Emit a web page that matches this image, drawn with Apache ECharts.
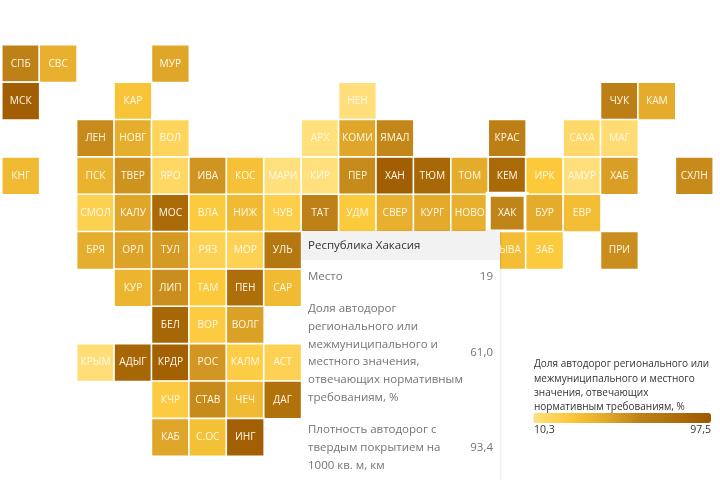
<!DOCTYPE html>
<html><head><meta charset="utf-8">
<style>html,body{margin:0;padding:0;background:#fff;overflow:hidden}#c{width:720px;height:480px;overflow:hidden;position:relative}</style>
<script src="https://cdn.jsdelivr.net/npm/echarts@6/dist/echarts.min.js"></script>
</head><body><div id="c"></div>
<script>
const regionCodes = ['СПБ','СВС','МУР','МСК','КАР','НЕН','ЧУК','КАМ','ЛЕН','НОВГ','ВОЛ','АРХ','КОМИ','ЯМАЛ','КРАС','САХА','МАГ','КНГ','ПСК','ТВЕР','ЯРО','ИВА','КОС','МАРИ','КИР','ПЕР','ХАН','ТЮМ','ТОМ','КЕМ','ИРК','АМУР','ХАБ','СХЛН','СМОЛ','КАЛУ','МОС','ВЛА','НИЖ','ЧУВ','ТАТ','УДМ','СВЕР','КУРГ','НОВО','ХАК','БУР','ЕВР','БРЯ','ОРЛ','ТУЛ','РЯЗ','МОР','УЛЬ','ТЫВА','ЗАБ','ПРИ','КУР','ЛИП','ТАМ','ПЕН','САР','БЕЛ','ВОР','ВОЛГ','КРЫМ','АДЫГ','КРДР','РОС','КАЛМ','АСТ','КЧР','СТАВ','ЧЕЧ','ДАГ','КАБ','С.ОС','ИНГ'];
const regionCols = [0,1,4,0,3,9,16,17,2,3,4,8,9,10,13,15,16,0,2,3,4,5,6,7,8,9,10,11,12,13,14,15,16,18,2,3,4,5,6,7,8,9,10,11,12,13,14,15,2,3,4,5,6,7,13,14,16,3,4,5,6,7,4,5,6,2,3,4,5,6,7,4,5,6,7,4,5,6];
const regionRows = [0,0,0,1,1,1,1,1,2,2,2,2,2,2,2,2,2,3,3,3,3,3,3,3,3,3,3,3,3,3,3,3,3,3,4,4,4,4,4,4,4,4,4,4,4,4,4,4,5,5,5,5,5,5,5,5,5,6,6,6,6,6,7,7,7,8,8,8,8,8,8,9,9,9,9,10,10,10];
const regionValues = [62,42,47,93,31,11,64,44,58,43,19,10.5,47,60,64,16,13,37,40,55,17,54,32,10.5,10.5,58,93,85,44,84,28,11,50,58,22,47,84,27,36,24,62,27,42,45,42,61,44,34,43,48,52,21,21,72,34,27,57,39,57,28,80,36,86,26,49,12,86,91,53,25,21,26,58,36,77,47,33,92];
const colAxis = [...Array(19).keys()];
const rowAxis = [...Array(11).keys()];
const legendTitle = 'Доля автодорог регионального или\nмежмуниципального и местного\nзначения, отвечающих\nнормативным требованиям, %';
const legendMin = 10.3, legendMax = 97.5;
const rampColors = ['#ffe07e','#fcc93a','#e3aa2b','#bd8016','#ae6f0a','#9c5800'];
const tipName = 'Республика Хакасия';
const tipRows = [['Место','19'],['Доля автодорог регионального или межмуниципального и местного значения, отвечающих нормативным требованиям, %','61,0'],['Плотность автодорог с твердым покрытием на 1000 кв. м, км','93,4']];
const selectedCode = 'ХАК';

const chart = echarts.init(document.getElementById('c'), null, {renderer:'canvas'});
const font = '"Open Sans","Noto Sans",sans-serif';
chart.setOption({
  animation:false,
  backgroundColor:'#fff',
  textStyle:{fontFamily:font},
  grid:{left:2,top:45,width:711,height:411,containLabel:false},
  xAxis:{type:'category',data:colAxis,show:false},
  yAxis:{type:'category',data:rowAxis,inverse:true,show:false},
  visualMap:{type:'continuous',min:legendMin,max:legendMax,orient:'horizontal',left:533.5,top:413,padding:0,itemWidth:10,itemHeight:177.5,
    calculable:false,hoverLink:false,text:null,showLabel:false,seriesIndex:0,dimension:2,inRange:{color:rampColors},
    handleStyle:{opacity:0},indicatorStyle:{opacity:0}},
  title:{text:legendTitle,left:534,top:357.5,padding:0,textStyle:{fontFamily:font,fontSize:10,fontWeight:'normal',color:'#333',lineHeight:14.3}},
  graphic:[
    {type:'text',left:534,top:425,style:{text:legendMin.toFixed(1).replace('.',','),fontFamily:font,fontSize:10.5,fill:'#333'}},
    {type:'text',right:9,top:425,style:{text:legendMax.toFixed(1).replace('.',','),fontFamily:font,fontSize:10.5,fill:'#333'}}
  ],
  tooltip:{trigger:'item',alwaysShowContent:true,showDelay:0,hideDelay:0,transitionDuration:0,position:[301,231],confine:false,padding:0,borderWidth:0,backgroundColor:'#fff',
    extraCssText:'width:199px;border-radius:0;box-shadow:1px 0 2px rgba(0,0,0,.10);white-space:normal;',
    formatter:()=>{
      const rows = tipRows.map(r=>`<tr><td style="padding:0 0 14.2px 0;vertical-align:middle;width:158px">${r[0]}</td><td style="padding:0 0 14.2px 4px;text-align:right;vertical-align:middle">${r[1]}</td></tr>`).join('');
      return `<div style="font:11.5px/17.8px ${font.replace(/"/g,"'")};color:#747474"><div style="background:#f2f2f2;color:#333;padding:5px 7px 6px;height:18px">${tipName}</div><table style="border-collapse:collapse;margin:7px 7px 0 7px;width:185px;font:inherit;color:inherit">${rows}</table></div>`;
    }},
  series:[{type:'heatmap',
    data:regionCodes.map((c,i)=>{
      const o={value:[regionCols[i],regionRows[i],regionValues[i]]};
      if(c===selectedCode)o.itemStyle={borderColor:'#fff',borderWidth:5};
      return o;}),
    itemStyle:{borderColor:'#fff',borderWidth:1.6},
    label:{show:true,fontFamily:font,fontSize:10.2,color:'#fff8e6',formatter:p=>regionCodes[p.dataIndex]},
    emphasis:{disabled:true}
  }]
});
chart.dispatchAction({type:'showTip',seriesIndex:0,dataIndex:regionCodes.indexOf(selectedCode)});
</script></body></html>
